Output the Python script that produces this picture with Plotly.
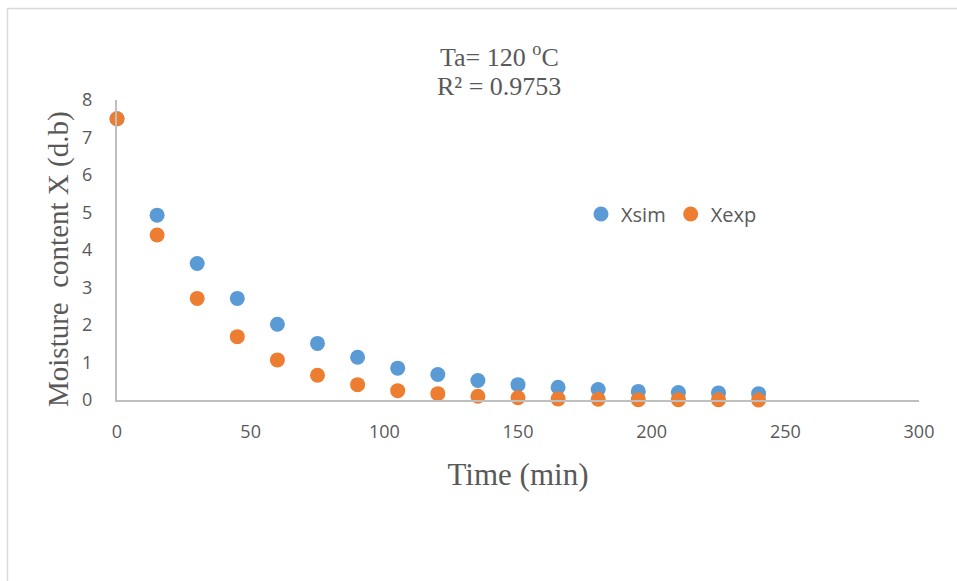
import plotly.graph_objects as go

time_min = [0, 15, 30, 45, 60, 75, 90, 105, 120, 135, 150, 165, 180, 195, 210, 225, 240]
x_sim = [7.5, 4.93, 3.64, 2.71, 2.02, 1.51, 1.14, 0.85, 0.68, 0.52, 0.41, 0.34, 0.28, 0.23, 0.20, 0.19, 0.17]
x_exp = [7.5, 4.40, 2.71, 1.69, 1.07, 0.66, 0.41, 0.25, 0.17, 0.10, 0.06, 0.03, 0.02, 0.01, 0.01, 0.005, 0.0]
x_ticks = [0, 50, 100, 150, 200, 250, 300]
y_ticks = [0, 1, 2, 3, 4, 5, 6, 7, 8]

W, H = 957, 581
L, R, T, B = 117, 38, 100, 181

fig = go.Figure()
fig.add_trace(go.Scatter(x=time_min, y=x_sim, mode="markers", name="Xsim",
                         marker=dict(color="#5B9BD5", size=15), cliponaxis=False))
fig.add_trace(go.Scatter(x=time_min, y=x_exp, mode="markers", name="Xexp",
                         marker=dict(color="#ED7D31", size=15), cliponaxis=False))

pw = W - L - R
ph = H - T - B
def px(xp):
    return (xp - L) / pw
def py(yp):
    return (H - B - yp) / ph

tickfont = dict(family="Open Sans", size=18, color="#595959")
serif = "Liberation Serif"

fig.update_layout(
    width=W, height=H,
    margin=dict(l=L, r=R, t=T, b=B),
    paper_bgcolor="white", plot_bgcolor="white",
    showlegend=True,
    legend=dict(orientation="h", x=px(581), y=py(214), xanchor="left", yanchor="middle",
                font=dict(family="Open Sans", size=20, color="#595959"),
                itemwidth=30, bgcolor="rgba(0,0,0,0)", tracegroupgap=0),
    xaxis=dict(range=[0, 300], tickvals=x_ticks, showgrid=False, zeroline=False,
               showline=True, linecolor="#BFBFBF", linewidth=2, ticks="",
               tickfont=tickfont, ticklabelstandoff=14,
               title=dict(text="Time (min)", font=dict(family=serif, size=31, color="#595959"), standoff=22)),
    yaxis=dict(range=[0, 8], tickvals=y_ticks, showgrid=False, zeroline=False,
               showline=True, linecolor="#BFBFBF", linewidth=2, ticks="",
               tickfont=tickfont, ticklabelstandoff=19),
    shapes=[dict(type="rect", xref="paper", yref="paper",
                 x0=px(7.5), x1=px(W + 20), y0=py(8.5), y1=py(H + 20),
                 line=dict(color="#D9D9D9", width=1.5), fillcolor="rgba(0,0,0,0)", layer="below")],
    annotations=[
        dict(text="Ta= 120 <sup>o</sup>C", x=px(499), y=py(56), xref="paper", yref="paper",
             showarrow=False, xanchor="center", yanchor="middle",
             font=dict(family=serif, size=26, color="#595959")),
        dict(text="R² = 0.9753", x=px(499), y=py(86), xref="paper", yref="paper",
             showarrow=False, xanchor="center", yanchor="middle",
             font=dict(family=serif, size=26, color="#595959")),
        dict(text="Moisture  content X (d.b)", x=px(58.5), y=py(259.5), xref="paper", yref="paper",
             showarrow=False, xanchor="center", yanchor="middle", textangle=-90,
             font=dict(family=serif, size=29, color="#595959")),
    ],
)

fig.write_html("out.html")
